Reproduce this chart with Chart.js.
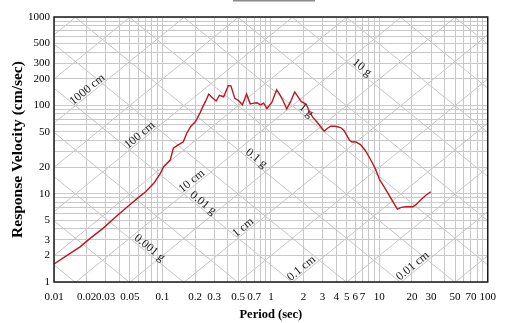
<!DOCTYPE html>
<html>
<head>
<meta charset="utf-8">
<title>Espectro de respuesta</title>
<script src="https://cdn.jsdelivr.net/npm/chart.js@4.4.1/dist/chart.umd.min.js"></script>
<style>
  html, body { margin: 0; padding: 0; background: #fff; }
  canvas { display: block; }
</style>
</head>
<body>
<canvas id="chart-espectro" width="505" height="323"></canvas>
<script>
// Espectro de velocidad: periodo (s) y velocidad (cm/s)
const periodos = [
  0.01, 0.0132, 0.0174, 0.0214, 0.0283, 0.0374, 0.0497, 0.061, 0.07, 0.0832,
  0.0957, 0.1025, 0.118, 0.126, 0.14, 0.156, 0.167, 0.183, 0.201, 0.221,
  0.237, 0.249, 0.267, 0.292, 0.313, 0.335, 0.367, 0.405, 0.428, 0.465,
  0.509, 0.546, 0.597, 0.644, 0.697, 0.747, 0.8, 0.858, 0.92, 1.02,
  1.13, 1.21, 1.3, 1.4, 1.52, 1.66, 1.78, 1.91, 2.12, 2.27,
  2.44, 2.71, 3.1, 3.33, 3.57, 3.9, 4.4, 4.72, 5.0, 5.3,
  5.6, 6.0, 6.7, 7.4, 8.2, 9.17, 10.1, 11.3, 12.5, 13.9,
  14.7, 15.9, 17.7, 20.4, 21.8, 24.3, 26.9, 29.8
];
const velocidades = [
  1.6, 2.0, 2.5, 3.1, 4.05, 5.5, 7.45, 9.2, 10.5, 13.1,
  17, 20.2, 24, 32.7, 35.6, 38.7, 48, 58, 65, 81,
  98, 110, 134, 120, 112, 130, 125, 167, 166, 120,
  112, 101, 134, 104, 106, 107, 101, 106, 92, 108,
  150, 132, 112, 91, 110, 142, 125, 110, 103, 84,
  73, 63, 51, 55, 58, 58, 56, 52, 46, 40.5,
  38.5, 38.7, 36, 31, 25, 19.3, 14.3, 11.5, 9.3, 7.45,
  6.7, 7.0, 7.1, 7.1, 7.5, 8.6, 9.6, 10.5
];

// Valores rotulados en los ejes
const etiquetasPeriodo = [0.01, 0.02, 0.03, 0.05, 0.1, 0.2, 0.3, 0.5, 0.7, 1, 2, 3, 4, 5, 6, 7, 10, 20, 30, 50, 70, 100];
const etiquetasVelocidad = [1, 2, 3, 5, 10, 20, 50, 100, 200, 300, 500, 1000];

// Rejilla diagonal (tripartita): una linea por decada y otra a media decada
const multiplosDiagonal = [1, 3.162];
const desplazamientos = [1000, 100, 10, 1, 0.1, 0.01];   // cm
const aceleraciones = [10, 1, 0.1, 0.01, 0.001];         // g
// periodo donde se escribe cada rótulo diagonal
const periodoRotuloCm = [0.0217, 0.066, 0.199, 0.593, 2.05, 21.8];
const periodoRotuloG = [6.47, 1.98, 0.687, 0.221, 0.071];

const G = 981;
const DOS_PI = 2 * Math.PI;

function velocidadDesplazamiento(d, t) { return DOS_PI * d * t; }
function velocidadAceleracion(a, t) { return G * a / (DOS_PI * t); }

function valoresLog(desde, hasta) {
  const vals = [];
  for (let e = desde; e <= hasta; e++) {
    for (let m = 1; m <= 9; m++) {
      if (e === hasta && m > 1) break;
      vals.push(Number((m * Math.pow(10, e)).toPrecision(3)));
    }
  }
  return vals;
}

function estaEn(lista, v) {
  return lista.some(x => Math.abs(x - v) / x < 1e-6);
}

const rejillaTripartita = {
  id: 'rejillaTripartita',
  beforeDatasetsDraw(chart) {
    const { ctx, chartArea: a, scales: { x, y } } = chart;
    const t0 = 0.01, t1 = 100;
    ctx.save();
    ctx.beginPath();
    ctx.rect(a.left, a.top, a.right - a.left, a.bottom - a.top);
    ctx.clip();
    ctx.strokeStyle = '#c6c6c6';
    ctx.lineWidth = 1;

    // lineas de desplazamiento y aceleracion constante
    for (let e = -5; e <= 5; e++) {
      multiplosDiagonal.forEach(m => {
        const n = m * Math.pow(10, e);
        ctx.beginPath();
        ctx.moveTo(x.getPixelForValue(t0), y.getPixelForValue(velocidadDesplazamiento(n, t0)));
        ctx.lineTo(x.getPixelForValue(t1), y.getPixelForValue(velocidadDesplazamiento(n, t1)));
        ctx.stroke();
        ctx.beginPath();
        ctx.moveTo(x.getPixelForValue(t0), y.getPixelForValue(velocidadAceleracion(n, t0)));
        ctx.lineTo(x.getPixelForValue(t1), y.getPixelForValue(velocidadAceleracion(n, t1)));
        ctx.stroke();
      });
    }

    ctx.fillStyle = '#222';
    ctx.font = '12px "Liberation Serif", "Times New Roman", serif';
    ctx.textAlign = 'center';
    ctx.textBaseline = 'middle';

    const rotulo = (texto, t, fv) => {
      const px = x.getPixelForValue(t);
      const py = y.getPixelForValue(fv(t));
      const qx = x.getPixelForValue(t * 10);
      const qy = y.getPixelForValue(fv(t * 10));
      const ang = Math.atan2(qy - py, qx - px);
      const nx = Math.sin(ang), ny = -Math.cos(ang);
      ctx.save();
      ctx.translate(px + nx * 5, py + ny * 5);
      ctx.rotate(ang);
      ctx.fillText(texto, 0, 0);
      ctx.restore();
    };

    desplazamientos.forEach((d, i) => {
      rotulo(d + ' cm', periodoRotuloCm[i], t => velocidadDesplazamiento(d, t));
    });
    aceleraciones.forEach((g, i) => {
      rotulo(g + ' g', periodoRotuloG[i], t => velocidadAceleracion(g, t));
    });
    ctx.restore();
  },
  afterDraw(chart) {
    const { ctx, chartArea: a } = chart;
    ctx.save();
    ctx.strokeStyle = '#1a1a1a';
    ctx.lineWidth = 1.5;
    ctx.strokeRect(a.left, a.top, a.right - a.left, a.bottom - a.top);
    // resto del recuadro de leyenda superior
    ctx.fillStyle = '#8a8a8a';
    ctx.fillRect(233, 0, 82, 1.5);
    ctx.restore();
  }
};

Chart.defaults.font.family = '"Liberation Serif", "Times New Roman", serif';
Chart.defaults.color = '#000';

const ctx = document.getElementById('chart-espectro').getContext('2d');
new Chart(ctx, {
  type: 'line',
  data: {
    datasets: [{
      data: periodos.map((t, i) => ({ x: t, y: velocidades[i] })),
      borderColor: '#c0141e',
      borderWidth: 1.4,
      pointRadius: 0,
      tension: 0,
      fill: false
    }]
  },
  options: {
    responsive: false,
    animation: false,
    layout: { padding: { top: 17, right: 10, left: 0, bottom: 0 } },
    plugins: {
      legend: { display: false },
      tooltip: { enabled: false }
    },
    scales: {
      x: {
        type: 'logarithmic',
        min: 0.01,
        max: 100,
        afterBuildTicks: s => { s.ticks = valoresLog(-2, 2).map(v => ({ value: v })); },
        afterFit: s => { s.height = 41; },
        ticks: {
          autoSkip: false,
          maxRotation: 0,
          padding: 9,
          font: { size: 11 },
          callback: v => estaEn(etiquetasPeriodo, v) ? String(v) : ''
        },
        grid: { color: '#c8c8c8', drawTicks: false },
        border: { display: false },
        title: {
          display: true,
          text: 'Period (sec)',
          font: { size: 12.5, weight: 'bold' },
          padding: { top: 0, bottom: 1 }
        }
      },
      y: {
        type: 'logarithmic',
        min: 1,
        max: 1000,
        afterBuildTicks: s => { s.ticks = valoresLog(0, 3).map(v => ({ value: v })); },
        afterFit: s => { s.width = 54; },
        ticks: {
          autoSkip: false,
          padding: 4,
          font: { size: 11 },
          callback: v => estaEn(etiquetasVelocidad, v) ? String(v) : ''
        },
        grid: { color: '#c8c8c8', drawTicks: false },
        border: { display: false },
        title: {
          display: true,
          text: 'Response Velocity (cm/sec)',
          font: { size: 15.5, weight: 'bold' },
          padding: { top: 8.5, bottom: 0 }
        }
      }
    }
  },
  plugins: [rejillaTripartita]
});
</script>
</body>
</html>
